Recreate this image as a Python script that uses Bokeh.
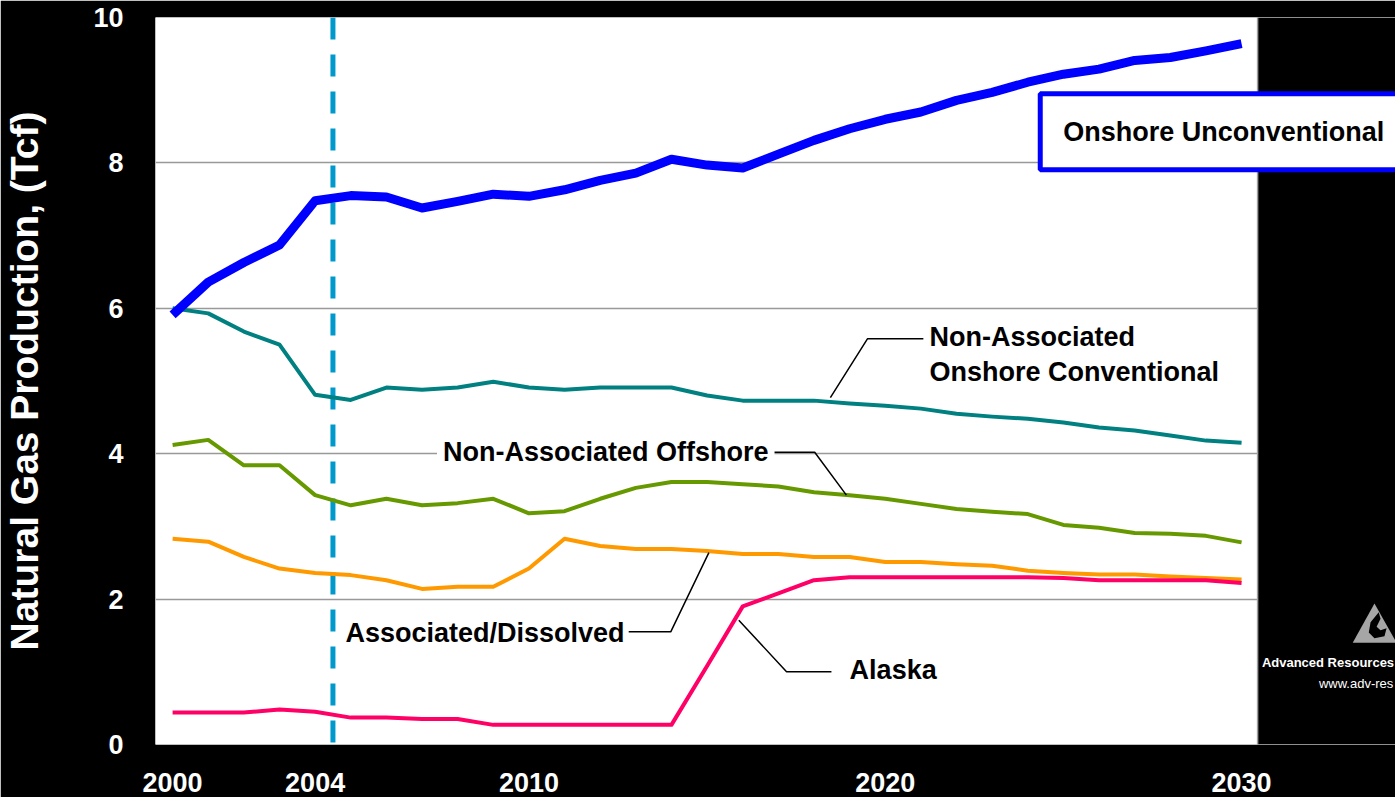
from bokeh.plotting import figure
from bokeh.models import Range1d, FixedTicker, Label, PolyAnnotation, BoxAnnotation, Span
from bokeh.embed import file_html
from bokeh.resources import INLINE

# ---------------- data ----------------
years = list(range(2000, 2031))

onshore_unconventional = [5.91, 6.36, 6.63, 6.87, 7.48, 7.55, 7.53, 7.38, 7.47, 7.57, 7.54,
                          7.63, 7.76, 7.86, 8.05, 7.97, 7.93, 8.12, 8.31, 8.47, 8.60,
                          8.70, 8.86, 8.97, 9.11, 9.22, 9.29, 9.41, 9.45, 9.54, 9.64]
non_assoc_onshore_conv = [6.00, 5.93, 5.68, 5.50, 4.81, 4.74, 4.91, 4.88, 4.91, 4.99, 4.91,
                          4.88, 4.91, 4.91, 4.91, 4.80, 4.73, 4.73, 4.73, 4.69, 4.66,
                          4.62, 4.55, 4.51, 4.48, 4.43, 4.36, 4.32, 4.25, 4.18, 4.15]
non_assoc_offshore = [4.12, 4.19, 3.84, 3.84, 3.43, 3.29, 3.38, 3.29, 3.32, 3.38, 3.18,
                      3.21, 3.38, 3.53, 3.61, 3.61, 3.58, 3.55, 3.47, 3.43, 3.38,
                      3.31, 3.24, 3.20, 3.17, 3.02, 2.98, 2.91, 2.90, 2.87, 2.78]
associated_dissolved = [2.83, 2.79, 2.58, 2.42, 2.36, 2.33, 2.26, 2.14, 2.17, 2.17, 2.42,
                        2.83, 2.73, 2.69, 2.69, 2.66, 2.62, 2.62, 2.58, 2.58, 2.51,
                        2.51, 2.48, 2.46, 2.39, 2.36, 2.34, 2.34, 2.31, 2.29, 2.27]
alaska = [0.44, 0.44, 0.44, 0.48, 0.45, 0.37, 0.37, 0.35, 0.35, 0.27, 0.27,
          0.27, 0.27, 0.27, 0.27, 1.08, 1.90, 2.08, 2.26, 2.30, 2.30,
          2.30, 2.30, 2.30, 2.30, 2.29, 2.26, 2.26, 2.26, 2.26, 2.22]

x_tick_labels = [2000, 2004, 2010, 2020, 2030]
y_tick_labels = [0, 2, 4, 6, 8, 10]
forecast_marker = 2004.5

y_title = "Natural Gas Production, (Tcf)"
label_unconv = "Onshore Unconventional"
label_conv_1 = "Non-Associated"
label_conv_2 = "Onshore Conventional"
label_offshore = "Non-Associated Offshore"
label_assoc = "Associated/Dissolved"
label_alaska = "Alaska"
logo_line_1 = "Advanced Resources"
logo_line_2 = "www.adv-res"

FONT = "Liberation Sans"
W, H = 1395, 797
X_MIN, X_MAX = 1999.52, 2034.32   # frame spans to the right edge of the canvas
PLOT_RIGHT = 2030.45              # right edge of the white plotting area

# ---------------- figure ----------------
p = figure(width=W, height=H, output_backend="svg", toolbar_location=None,
           x_range=Range1d(X_MIN, X_MAX), y_range=Range1d(0, 10),
           min_border_left=153, min_border_right=0, min_border_top=17, min_border_bottom=53)

p.background_fill_color = "white"
p.border_fill_color = "black"
p.outline_line_color = None

p.xgrid.visible = False
p.ygrid.ticker = FixedTicker(ticks=y_tick_labels)
p.ygrid.grid_line_color = "#999999"
p.ygrid.grid_line_width = 1.5

p.xaxis.ticker = FixedTicker(ticks=x_tick_labels)
p.yaxis.ticker = FixedTicker(ticks=y_tick_labels)
for ax in (p.xaxis[0], p.yaxis[0]):
    ax.axis_line_color = None
    ax.major_tick_line_color = None
    ax.minor_tick_line_color = None
    ax.major_label_text_color = "white"
    ax.major_label_text_font = FONT
    ax.major_label_text_font_style = "bold"
    ax.major_label_text_font_size = "27px"
p.xaxis.major_label_standoff = 22
p.yaxis.major_label_standoff = 26

p.yaxis.axis_label = y_title
p.yaxis.axis_label_text_color = "white"
p.yaxis.axis_label_text_font = FONT
p.yaxis.axis_label_text_font_style = "bold"
p.yaxis.axis_label_text_font_size = "39px"
p.yaxis.axis_label_standoff = 44

# forecast marker (dashed vertical)
p.line([forecast_marker, forecast_marker], [10, 0], line_color="#0099CC",
       line_width=5, line_dash="22 15")

# series
p.line(years, non_assoc_onshore_conv, line_color="#008080", line_width=4, line_join="round")
p.line(years, non_assoc_offshore, line_color="#669900", line_width=4, line_join="round")
p.line(years, associated_dissolved, line_color="#FF9900", line_width=4, line_join="round")
p.line(years, alaska, line_color="#FF0066", line_width=4, line_join="round")
p.line(years, onshore_unconventional, line_color="#0000FF", line_width=9, line_join="round")

# leader lines
leaders = [
    ([2018.46, 2019.50, 2021.07], [4.77, 5.58, 5.58]),
    ([2016.78, 2018.02, 2018.91], [4.02, 4.02, 3.43]),
    ([2012.80, 2013.98, 2015.05], [1.55, 1.55, 2.64]),
    ([2015.89, 2017.23, 2018.49], [1.71, 1.00, 1.00]),
]
for lx, ly in leaders:
    p.line(lx, ly, line_color="black", line_width=1.5)

# black area right of the plotting area + its border
p.add_layout(BoxAnnotation(left=PLOT_RIGHT, fill_color="black", fill_alpha=1,
                           line_color=None))
p.add_layout(Span(location=PLOT_RIGHT, dimension="height", line_color="#a0a0a0",
                  line_width=1.5))

def add_label(text, x, y, **kw):
    opts = dict(text_font=FONT, text_font_style="bold", text_font_size="27px",
                text_color="black", text_align="left", text_baseline="middle")
    opts.update(kw)
    p.add_layout(Label(x=x, y=y, text=text, **opts))

add_label(label_conv_1, 2021.24, 5.61)
add_label(label_conv_2, 2021.24, 5.12)
add_label(label_offshore, 2007.42, 4.02, background_fill_color="white", padding=6)
add_label(label_assoc, 2004.85, 1.53)
add_label(label_alaska, 2019.0, 1.03)
add_label(label_unconv, 2024.35, 8.43, background_fill_color="white",
          border_line_color="#0000FF", border_line_width=5, padding=23)

# logo mark
p.add_layout(PolyAnnotation(xs=[2033.73, 2033.12, 2034.35], ys=[1.94, 1.40, 1.40],
                            fill_color="#a6a6a6", fill_alpha=1, line_color=None))
p.add_layout(PolyAnnotation(xs=[2033.85, 2033.62, 2033.57, 2033.73, 2034.01, 2034.07,
                                2033.90, 2033.79, 2033.90],
                            ys=[1.82, 1.68, 1.54, 1.46, 1.49, 1.60, 1.57, 1.62, 1.73],
                            fill_color="black", fill_alpha=1, line_color=None))
add_label(logo_line_1, 2030.57, 1.13, text_color="white", text_font_size="13px")
add_label(logo_line_2, 2032.17, 0.84, text_color="white", text_font_size="13px",
          text_font_style="normal")

open("out.html", "w").write(file_html(p, INLINE))
